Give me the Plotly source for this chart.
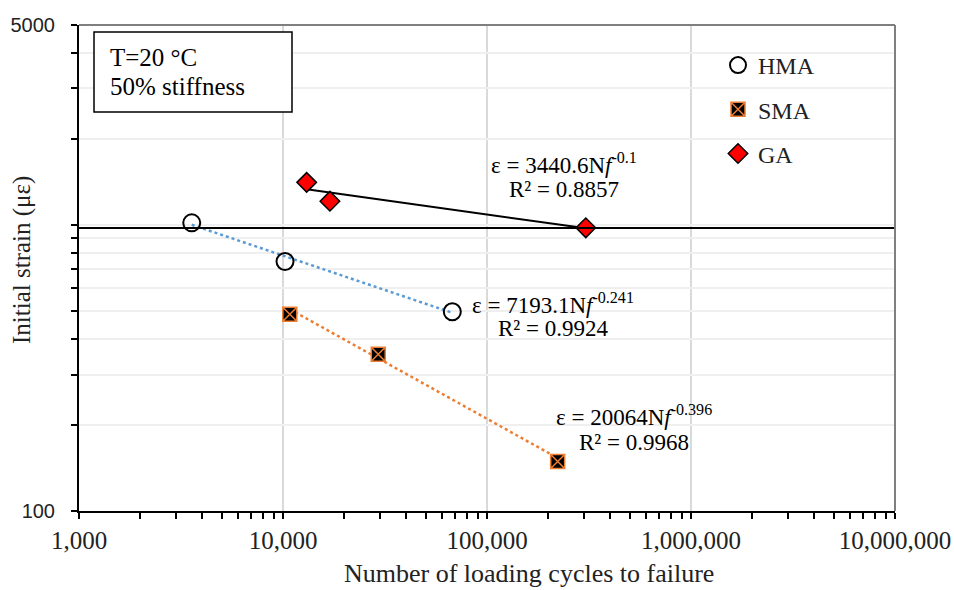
import numpy as np
import plotly.graph_objects as go

# Fatigue results at T = 20 °C, failure defined at 50 % stiffness
hma_cycles = [3570, 10230, 67600]
hma_strain = [1017, 745, 497]
sma_cycles = [10800, 29300, 222000]
sma_strain = [487, 353, 149]
ga_cycles = [13060, 16980, 305000]
ga_strain = [1409, 1211, 977]

# Power-law fits: strain = a * Nf^b, with R²
hma_fit = (7193.1, -0.241, 0.9924)
sma_fit = (20064, -0.396, 0.9968)
ga_fit = (3440.6, -0.1, 0.8857)

# horizontal reference strain line
ref_strain = 975

x_tick_vals = [1e3, 1e4, 1e5, 1e6, 1e7]
x_tick_text = ["1,000", "10,000", "100,000", "1,000,000", "10,000,000"]
x_minor_vals = [m * d for d in [1e3, 1e4, 1e5, 1e6] for m in range(2, 10)]
y_tick_vals = [100, 200, 300, 400, 500, 600, 700, 800, 900,
               1000, 2000, 3000, 4000, 5000]
y_tick_text = ["100"] + [""] * 12 + ["5000"]

SERIF = "Liberation Serif"
SANS = "Liberation Sans"
BLUE = "#5B9BD5"
ORANGE = "#ED7D31"

W, H = 954, 590
ML, MR, MT, MB = 79, 59, 25, 79
PW, PH = W - ML - MR, H - MT - MB


def px(x):
    return (x - ML) / PW


def py(y):
    return (H - MB - y) / PH


def fit_curve(cycles, fit):
    a, b, _ = fit
    xs = np.logspace(np.log10(min(cycles)), np.log10(max(cycles)), 40)
    return xs, a * xs ** b


fig = go.Figure()

# trendlines
for cyc, fit, style in [
    (hma_cycles, hma_fit, dict(color=BLUE, width=2.5, dash="dot")),
    (sma_cycles, sma_fit, dict(color=ORANGE, width=2.5, dash="dot")),
    (ga_cycles, ga_fit, dict(color="black", width=2)),
]:
    xs, ys = fit_curve(cyc, fit)
    fig.add_trace(go.Scatter(x=xs, y=ys, mode="lines", line=style,
                             showlegend=False, hoverinfo="skip"))

# measured points
fig.add_trace(go.Scatter(
    x=hma_cycles, y=hma_strain, mode="markers", name="HMA", legendgroup="a",
    marker=dict(symbol="circle-open", size=17, color="black",
                line=dict(width=2, color="black"))))
fig.add_trace(go.Scatter(
    x=sma_cycles, y=sma_strain, mode="markers", name="SMA", legendgroup="b",
    marker=dict(symbol="square-x", size=14, color="black",
                line=dict(width=1.5, color=ORANGE))))
fig.add_trace(go.Scatter(
    x=ga_cycles, y=ga_strain, mode="markers", name="GA", legendgroup="c",
    marker=dict(symbol="diamond", size=15, color="#FF0000",
                line=dict(width=1.5, color="black"))))

fig.add_hline(y=ref_strain, line=dict(color="black", width=2))


def eq_text(fit):
    a, b, _ = fit
    return f"ε = {a:g}N<i>f</i><sup>{b:g}</sup>"


annos = [
    (eq_text(ga_fit), f"R² = {ga_fit[2]:.4f}", 564, 163, 189),
    (eq_text(hma_fit), f"R² = {hma_fit[2]:.4f}", 553, 303, 328),
    (eq_text(sma_fit), f"R² = {sma_fit[2]:.4f}", 634, 415, 442),
]
for line1, line2, cx, y1, y2 in annos:
    for txt, yy in [(line1, y1), (line2, y2)]:
        fig.add_annotation(x=px(cx), y=py(yy), xref="paper", yref="paper",
                           text=txt, showarrow=False, xanchor="center",
                           yanchor="middle",
                           font=dict(family=SERIF, size=23, color="black"))

# condition box
fig.add_shape(type="rect", xref="paper", yref="paper",
              x0=px(94), x1=px(292), y0=py(112), y1=py(32),
              line=dict(color="black", width=1.5), fillcolor="white")
fig.add_annotation(x=px(108), y=py(57), xref="paper", yref="paper",
                   text="T=20 °C", showarrow=False, xanchor="left",
                   yanchor="middle", font=dict(family=SERIF, size=25, color="black"))
fig.add_annotation(x=px(108), y=py(86), xref="paper", yref="paper",
                   text="50% stiffness", showarrow=False, xanchor="left",
                   yanchor="middle", font=dict(family=SERIF, size=25, color="black"))

# axis titles
fig.add_annotation(x=px(529), y=py(573), xref="paper", yref="paper",
                   text="Number of loading cycles to failure", showarrow=False,
                   xanchor="center", yanchor="middle",
                   font=dict(family=SERIF, size=26, color="#222"))
fig.add_annotation(x=px(22), y=py(260), xref="paper", yref="paper",
                   text="Initial strain (με)", showarrow=False, textangle=-90,
                   xanchor="center", yanchor="middle",
                   font=dict(family=SERIF, size=25, color="#222"))

# top and right frame
fig.add_shape(type="line", xref="paper", yref="paper", x0=0, x1=1, y0=1, y1=1,
              line=dict(color="#7F7F7F", width=2))
fig.add_shape(type="line", xref="paper", yref="paper", x0=1, x1=1, y0=0, y1=1,
              line=dict(color="#7F7F7F", width=2))

fig.update_xaxes(
    type="log", range=[3, 7], automargin=False,
    tickvals=x_tick_vals, ticktext=x_tick_text,
    ticks="outside", ticklen=6, tickwidth=2, tickcolor="black",
    showline=True, linecolor="black", linewidth=2,
    showgrid=True, gridcolor="#D9D9D9", gridwidth=2,
    minor=dict(tickvals=x_minor_vals, ticks="outside", ticklen=6,
               tickwidth=2, tickcolor="black", showgrid=False),
    tickfont=dict(family=SERIF, size=25, color="#222"),
    zeroline=False,
)
fig.update_yaxes(
    type="log", range=[2, np.log10(5000)], automargin=False,
    tickvals=y_tick_vals, ticktext=y_tick_text,
    ticks="outside", ticklen=6, tickwidth=2, tickcolor="black",
    showline=True, linecolor="black", linewidth=2,
    showgrid=True, gridcolor="#EFEFEF", gridwidth=2,
    ticklabelstandoff=12,
    tickfont=dict(family=SANS, size=20, color="#222"),
    zeroline=False,
)

fig.update_layout(
    width=W, height=H,
    margin=dict(l=ML, r=MR, t=MT, b=MB),
    paper_bgcolor="white", plot_bgcolor="white",
    showlegend=True,
    legend=dict(x=px(718), y=py(43), xanchor="left", yanchor="top",
                font=dict(family=SERIF, size=24, color="#222"),
                bgcolor="rgba(0,0,0,0)", tracegroupgap=10,
                itemsizing="trace"),
)

fig.write_html("out.html")
